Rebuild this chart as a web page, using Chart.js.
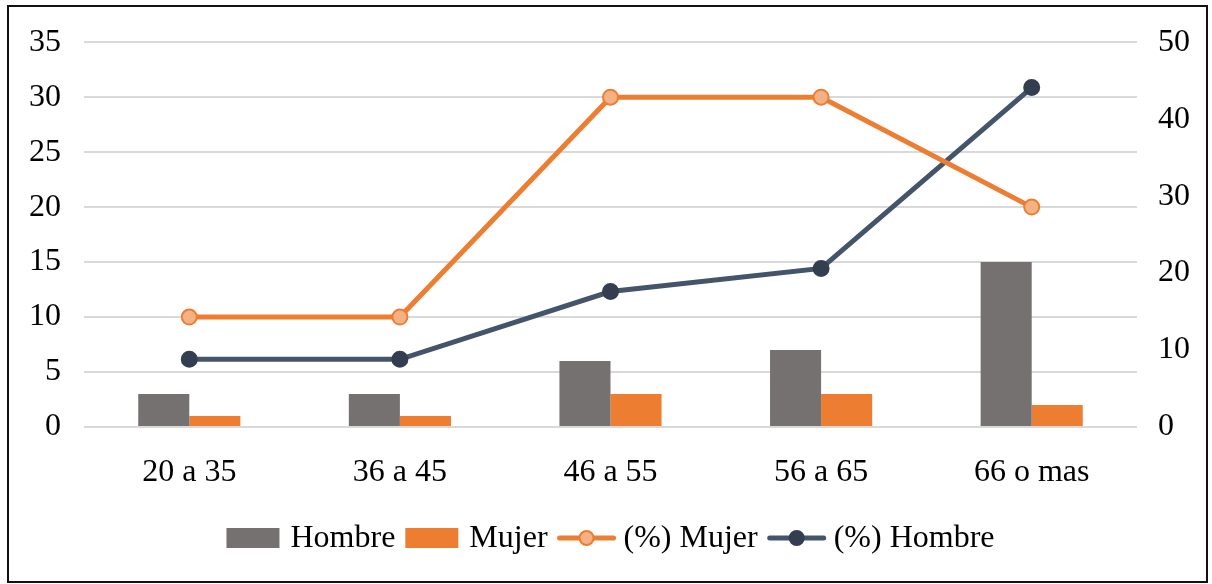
<!DOCTYPE html>
<html>
<head>
<meta charset="utf-8">
<script src="https://cdn.jsdelivr.net/npm/chart.js@4/dist/chart.umd.min.js"></script>
<style>
  html, body { margin: 0; padding: 0; background: #fff; }
  #wrap { width: 1212px; height: 584px; position: relative; }
</style>
</head>
<body>
<div id="wrap"><canvas id="c" width="1212" height="584"></canvas></div>
<script>
const categories = ['20 a 35', '36 a 45', '46 a 55', '56 a 65', '66 o mas'];
const hombre = [3, 3, 6, 7, 15];
const mujer = [1, 1, 3, 3, 2];
const pctMujer = [10, 10, 30, 30, 20];
const pctHombre = [8.8, 8.8, 17.6, 20.6, 44.1];
const leftTicks = [0, 5, 10, 15, 20, 25, 30, 35];
const rightTicks = [0, 10, 20, 30, 40, 50];

const FONT = 'Liberation Serif, "Times New Roman", serif';
const FS = 32;

const framePlugin = {
  id: 'frame',
  beforeDraw(chart) {
    const ctx = chart.ctx;
    ctx.save();
    ctx.fillStyle = '#fff';
    ctx.fillRect(0, 0, chart.width, chart.height);
    ctx.restore();
  },
  afterDraw(chart) {
    const ctx = chart.ctx;
    ctx.save();
    ctx.strokeStyle = '#111';
    ctx.lineWidth = 2;
    ctx.strokeRect(8, 6, 1199, 576);
    // custom legend
    const ds = chart.data.datasets;
    ctx.font = FS + 'px ' + FONT;
    ctx.textBaseline = 'middle';
    ctx.fillStyle = '#000';
    const items = ds.map(d => {
      const tw = ctx.measureText(d.label).width;
      const sw = d.type === 'line' ? 58 : 53;
      const gap = d.type === 'line' ? 8 : 11;
      return { d, tw, sw, gap, w: sw + gap + tw };
    });
    const spacing = 10;
    const total = items.reduce((a, b) => a + b.w, 0) + spacing * (items.length - 1);
    const ca = chart.chartArea;
    let x = (ca.left + ca.right) / 2 - total / 2;
    const cy = 538;
    items.forEach(it => {
      const d = it.d;
      if (d.type === 'line') {
        ctx.strokeStyle = d.borderColor;
        ctx.lineWidth = d.borderWidth;
        ctx.lineCap = 'round';
        ctx.beginPath();
        ctx.moveTo(x + 2, cy);
        ctx.lineTo(x + it.sw - 2, cy);
        ctx.stroke();
        ctx.beginPath();
        ctx.arc(x + it.sw / 2, cy, 7, 0, Math.PI * 2);
        ctx.fillStyle = d.pointBackgroundColor;
        ctx.fill();
        ctx.lineWidth = d.pointBorderWidth;
        ctx.strokeStyle = d.pointBorderColor;
        ctx.stroke();
      } else {
        ctx.fillStyle = d.backgroundColor;
        ctx.fillRect(x, cy - 10, it.sw, 20);
      }
      ctx.fillStyle = '#000';
      ctx.textAlign = 'left';
      ctx.fillText(d.label, x + it.sw + it.gap, cy + 1);
      x += it.w + spacing;
    });
    ctx.restore();
  }
};

new Chart(document.getElementById('c'), {
  data: {
    labels: categories,
    datasets: [
      { type: 'bar', label: 'Hombre', data: hombre, backgroundColor: '#767171', yAxisID: 'y', order: 2,
        barPercentage: 1, categoryPercentage: 0.485 },
      { type: 'bar', label: 'Mujer', data: mujer, backgroundColor: '#ED7D31', yAxisID: 'y', order: 2,
        barPercentage: 1, categoryPercentage: 0.485 },
      { type: 'line', label: '(%) Mujer', data: pctMujer, yAxisID: 'y', order: 0,
        borderColor: '#ED7D31', borderWidth: 5, pointRadius: 7.5, pointBackgroundColor: '#F4B183',
        pointBorderColor: '#ED7D31', pointBorderWidth: 2, tension: 0, fill: false },
      { type: 'line', label: '(%) Hombre', data: pctHombre, yAxisID: 'y1', order: 0,
        borderColor: '#44546A', borderWidth: 5, pointRadius: 7.5, pointBackgroundColor: '#333F50',
        pointBorderColor: '#333F50', pointBorderWidth: 2, tension: 0, fill: false }
    ]
  },
  options: {
    responsive: false,
    animation: false,
    devicePixelRatio: 1,
    layout: { padding: { left: 0, right: 0, top: 37, bottom: 0 } },
    plugins: { legend: { display: false }, tooltip: { enabled: false } },
    scales: {
      x: {
        grid: { display: false },
        border: { display: false },
        ticks: { font: { family: FONT, size: FS }, color: '#000', padding: 18 },
        afterFit(s) { s.height = 157; }
      },
      y: {
        position: 'left',
        min: 0, max: 35,
        afterBuildTicks(s) { s.ticks = leftTicks.map(v => ({ value: v })); },
        grid: { color: '#D9D9D9', lineWidth: 2, drawTicks: false },
        border: { display: false },
        ticks: { font: { family: FONT, size: FS }, color: '#000', padding: 23 },
        afterFit(s) { s.width = 84; }
      },
      y1: {
        position: 'right',
        min: 0, max: 50,
        afterBuildTicks(s) { s.ticks = rightTicks.map(v => ({ value: v })); },
        grid: { display: false, drawTicks: false },
        border: { display: false },
        ticks: { font: { family: FONT, size: FS }, color: '#000', padding: 21 },
        afterFit(s) { s.width = 75; }
      }
    }
  },
  plugins: [framePlugin]
});
</script>
</body>
</html>
